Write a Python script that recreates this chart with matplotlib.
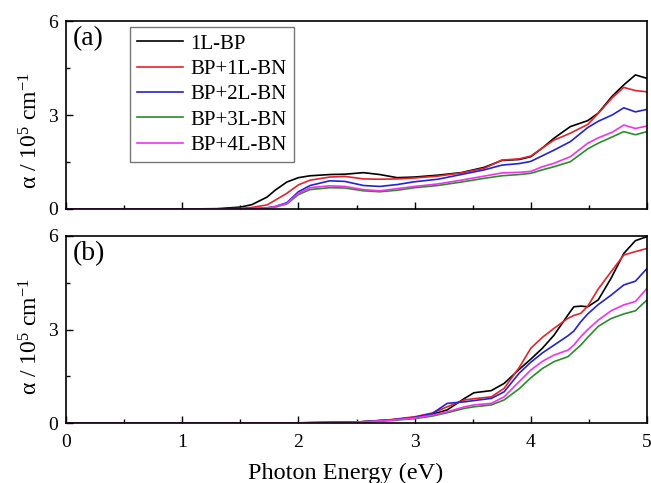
import matplotlib
matplotlib.use("Agg")
import matplotlib.pyplot as plt
from matplotlib.ticker import MultipleLocator

plt.rcParams['font.family'] = ['Liberation Serif', 'DejaVu Serif']
plt.rcParams['mathtext.fontset'] = 'custom'
plt.rcParams['mathtext.rm'] = 'Liberation Serif'
plt.rcParams['mathtext.it'] = 'Liberation Serif:italic'

labels = ['1L-BP', 'BP+1L-BN', 'BP+2L-BN', 'BP+3L-BN', 'BP+4L-BN']
colors = ['#000000', '#e8222a', '#2222d8', '#2a8c2a', '#f032f0']

# Panel (a)
energy_a = [0, 1.0, 1.3, 1.5, 1.6, 1.73, 1.8, 1.9, 2.0, 2.1, 2.27, 2.4, 2.56, 2.7, 2.85,
            3.0, 3.2, 3.4, 3.6, 3.75, 3.9, 4.0, 4.1, 4.2, 4.34, 4.49, 4.58, 4.7, 4.8, 4.9, 5.0]
bp_1l_a = [0, 0, 0.01, 0.06, 0.14, 0.38, 0.6, 0.86, 1.0, 1.06, 1.1, 1.11, 1.16, 1.1, 1.0,
           1.02, 1.08, 1.16, 1.33, 1.55, 1.58, 1.67, 1.95, 2.26, 2.63, 2.82, 3.06, 3.6, 3.96, 4.28, 4.17]
bn1_a = [0, 0, 0, 0.02, 0.05, 0.13, 0.28, 0.5, 0.77, 0.92, 1.02, 1.04, 0.96, 0.95, 0.96,
         0.99, 1.05, 1.15, 1.3, 1.56, 1.6, 1.69, 1.95, 2.2, 2.42, 2.7, 3.05, 3.55, 3.88, 3.78, 3.74]
bn2_a = [0, 0, 0, 0, 0.01, 0.04, 0.08, 0.2, 0.55, 0.75, 0.9, 0.88, 0.75, 0.72, 0.78,
         0.87, 0.95, 1.1, 1.25, 1.4, 1.45, 1.52, 1.7, 1.88, 2.15, 2.6, 2.8, 3.0, 3.23, 3.1, 3.18]
bn3_a = [0, 0, 0, 0, 0.01, 0.03, 0.06, 0.16, 0.46, 0.62, 0.68, 0.67, 0.58, 0.55, 0.6,
         0.68, 0.75, 0.86, 0.98, 1.06, 1.1, 1.14, 1.25, 1.35, 1.51, 1.92, 2.1, 2.3, 2.47, 2.37, 2.47]
bn4_a = [0, 0, 0, 0, 0.01, 0.03, 0.07, 0.18, 0.5, 0.68, 0.74, 0.72, 0.62, 0.58, 0.65,
         0.72, 0.8, 0.92, 1.05, 1.15, 1.17, 1.2, 1.35, 1.46, 1.67, 2.1, 2.27, 2.45, 2.68, 2.57, 2.65]

# Panel (b)
energy_b = [0, 1.0, 2.0, 2.5, 2.8, 3.0, 3.15, 3.28, 3.43, 3.51, 3.66, 3.77, 3.9, 4.0, 4.1,
            4.2, 4.32, 4.37, 4.43, 4.49, 4.58, 4.69, 4.8, 4.9, 5.0]
bp_1l_b = [0, 0, 0.005, 0.03, 0.1, 0.18, 0.28, 0.42, 0.79, 0.97, 1.04, 1.27, 1.72, 2.05, 2.4,
           2.82, 3.47, 3.73, 3.75, 3.73, 3.95, 4.64, 5.44, 5.85, 5.98]
bn1_b = [0, 0, 0.005, 0.03, 0.11, 0.2, 0.32, 0.52, 0.74, 0.78, 0.84, 1.11, 1.78, 2.4, 2.75,
         3.04, 3.36, 3.45, 3.52, 3.75, 4.3, 4.85, 5.39, 5.5, 5.6]
bn2_b = [0, 0, 0.005, 0.03, 0.1, 0.18, 0.3, 0.63, 0.68, 0.72, 0.79, 1.0, 1.6, 1.95, 2.25,
         2.5, 2.8, 2.95, 3.25, 3.5, 3.8, 4.1, 4.43, 4.55, 4.96]
bn3_b = [0, 0, 0.003, 0.02, 0.08, 0.14, 0.22, 0.33, 0.47, 0.52, 0.58, 0.74, 1.1, 1.45, 1.75,
         1.97, 2.13, 2.3, 2.5, 2.75, 3.1, 3.35, 3.5, 3.6, 3.95]
bn4_b = [0, 0, 0.003, 0.02, 0.09, 0.16, 0.25, 0.36, 0.52, 0.58, 0.63, 0.84, 1.33, 1.7, 1.98,
         2.18, 2.34, 2.5, 2.77, 3.0, 3.3, 3.6, 3.79, 3.9, 4.32]

series_a = [bp_1l_a, bn1_a, bn2_a, bn3_a, bn4_a]
series_b = [bp_1l_b, bn1_b, bn2_b, bn3_b, bn4_b]

fig = plt.figure(figsize=(6.51, 4.83), dpi=100)
ax1 = fig.add_axes([0.1014, 0.5673, 0.8925, 0.3892])
ax2 = fig.add_axes([0.1014, 0.1242, 0.8925, 0.3872])

ylabel = 'α / 10$^{5}$ cm$^{-1}$'

for ax, x, series, tag, ly in [(ax1, energy_a, series_a, '(a)', 0.42),
                                (ax2, energy_b, series_b, '(b)', 0.46)]:
    for i in range(len(labels)):
        ax.plot(x, series[i], color=colors[i], lw=1.2, label=labels[i])
    ax.set_xlim(0, 5)
    ax.set_ylim(0, 6)
    ax.xaxis.set_major_locator(MultipleLocator(1))
    ax.xaxis.set_minor_locator(MultipleLocator(0.5))
    ax.yaxis.set_major_locator(MultipleLocator(3))
    ax.yaxis.set_minor_locator(MultipleLocator(1.5))
    ax.tick_params(which='both', direction='in', labelsize=14)
    ax.tick_params(axis='x', pad=8)
    ax.tick_params(axis='y', pad=6)
    ax.tick_params(which='major', length=5, width=1)
    ax.tick_params(which='minor', length=3, width=1)
    for s in ax.spines.values():
        s.set_linewidth(1.2)
    ax.set_ylabel(ylabel, fontsize=17)
    ax.yaxis.set_label_coords(-0.04, ly)
    ax.text(0.011, 0.975, tag, transform=ax.transAxes, fontsize=20, va='top', ha='left')

ax1.tick_params(labelbottom=False)
ax2.set_xlabel('Photon Energy (eV)', fontsize=17.5)
ax2.xaxis.set_label_coords(0.482, -0.215)

leg = ax1.legend(loc='upper left', bbox_to_anchor=(0.11, 0.97), fontsize=15,
                 frameon=True, fancybox=False, edgecolor='#777777', framealpha=1,
                 handlelength=2.2, handletextpad=0.35, borderpad=0.35, labelspacing=0.28,
                 borderaxespad=0)
leg.get_frame().set_linewidth(1.0)

fig.savefig('out.png', dpi=100)
